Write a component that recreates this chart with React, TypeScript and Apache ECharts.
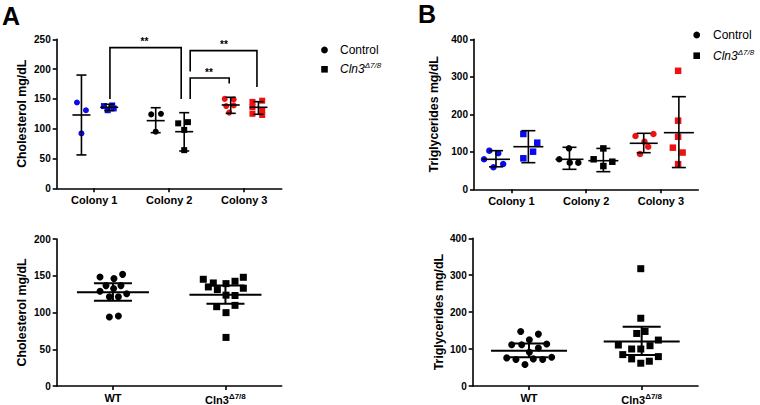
import React, { useEffect, useRef } from "react";
import * as echarts from "echarts";

// ---------- DATA ----------
const colonyCategories = ["Colony 1", "Colony 2", "Colony 3"];
const genotypeCategories = ["WT", "Cln3Δ7/8"];

const cholYAxis = { max: 250, interval: 50 };
const trigYAxis = { max: 400, interval: 100 };
const cholBottomYAxis = { max: 200, interval: 50 };

// Panel A top: cholesterol by colony  [x position, value]
const cholCtrlC1 = [[0.27, 144], [0.39, 131], [0.33, 92]];
const cholCtrlC2 = [[1.26, 124], [1.39, 125], [1.32, 95]];
const cholCtrlC3 = [[2.24, 150], [2.36, 149], [2.26, 138], [2.36, 139], [2.3, 127]];
const cholKoC1 = [[0.63, 138], [0.74, 139], [0.68, 131], [0.76, 134]];
const cholKoC2 = [[1.62, 109], [1.75, 111], [1.7, 98], [1.7, 64]];
const cholKoC3 = [[2.61, 145], [2.74, 147], [2.61, 136], [2.74, 131], [2.61, 125], [2.74, 123]];
// [x, mean, low, high]
const cholCtrlStats = [[0.33, 123, 56, 190], [1.32, 113.5, 93.3, 135.2], [2.32, 139.8, 125.8, 152.7]];
const cholKoStats = [[0.7, 135.9, 130.5, 141], [1.7, 95, 62.6, 126.9], [2.69, 135.9, 124.2, 145.3]];
// brackets: [x1, x2, yTop, yLeftEnd, yRightEnd, labelX]
const cholBrackets = [
  [0.71, 1.66, 236, 150, 150, 1.17],
  [1.78, 2.67, 231, 196, 170, 2.23],
  [1.78, 2.3, 185, 150, 176, 2.03],
];
const bracketLabel = "**";

// Panel B top: triglycerides by colony
const trigCtrlC1 = [[0.205, 103], [0.325, 96], [0.134, 80], [0.39, 67.5], [0.26, 58.7]];
const trigCtrlC2 = [[1.14, 80], [1.27, 109.3], [1.28, 71], [1.395, 71]];
const trigCtrlC3 = [[2.16, 142], [2.4, 147.5], [2.28, 127], [2.33, 113.6], [2.22, 94]];
const trigKoC1 = [[0.66, 147.5], [0.846, 124.3], [0.79, 100.3], [0.66, 82.7]];
const trigKoC2 = [[1.6, 80], [1.73, 109], [1.73, 62], [1.85, 73.6]];
const trigKoC3 = [[2.73, 316], [2.73, 183], [2.73, 140], [2.66, 111], [2.79, 98], [2.73, 67]];
const trigCtrlStats = [[0.294, 80, 60, 103], [1.277, 80, 53.3, 112], [2.27, 122.7, 97.6, 149.3]];
const trigKoStats = [[0.727, 113.6, 71, 156.3], [1.73, 76.3, 47, 109], [2.74, 151, 58, 247]];

// Panel A bottom: cholesterol WT vs Cln3
const cholWT = [
  [0.385, 148.3], [0.509, 146.1], [0.586, 151.9], [0.385, 129], [0.438, 136.6], [0.506, 132.6],
  [0.571, 136.6], [0.622, 125.4], [0.468, 121.3], [0.548, 121.3], [0.468, 93.9], [0.548, 95.3],
];
const cholKO = [
  [1.303, 145.2], [1.392, 140.2], [1.505, 139.3], [1.585, 142.5], [1.659, 147.9], [1.348, 134.8],
  [1.428, 131.2], [1.659, 133], [1.505, 123.6], [1.585, 123.1], [1.422, 107.9], [1.585, 109.7],
  [1.505, 99.8], [1.505, 66.1],
];
const cholGenoStats = [[0.5, 127.6, 116, 139.8], [1.5, 124, 111.9, 136.6]];

// Panel B bottom: triglycerides WT vs Cln3
const trigWT = [
  [0.426, 147.7], [0.583, 140.5], [0.503, 125.3], [0.346, 111.9], [0.435, 111.9], [0.657, 113.7],
  [0.583, 102.9], [0.503, 91.3], [0.302, 76.1], [0.384, 71.6], [0.538, 73.4], [0.621, 71.6],
  [0.701, 77.9], [0.464, 58.2],
];
const trigKO = [
  [1.492, 317.7], [1.492, 183.5], [1.456, 142.3], [1.53, 147.7], [1.648, 124.4], [1.293, 111],
  [1.411, 100.2], [1.492, 100.2], [1.574, 109.2], [1.332, 85], [1.411, 73.4], [1.568, 67.1],
  [1.648, 79.6], [1.492, 61.7],
];
const trigGenoStats = [[0.5, 95.8, 77.9, 115.4], [1.5, 120.8, 84.1, 160.2]];

const legendLabels = ["Control", "Cln3", "Δ7/8"];
const yNames = ["Cholesterol mg/dL", "Triglycerides mg/dL"];
const panelLetters = ["A", "B"];

// ---------- STYLE ----------
const FONT = "Arial, 'Liberation Sans', Helvetica, sans-serif";
const BLUE = "#0a0aee";
const RED = "#ee1111";
const BLACK = "#000000";
const colonyColors = [BLUE, BLACK, RED];

function errorSeries(data: number[][], xi: number, yi: number, meanHalf: number, capHalf: number, lw: number) {
  return {
    type: "custom",
    xAxisIndex: xi,
    yAxisIndex: yi,
    z: 5,
    silent: true,
    data,
    encode: { x: 0, y: [1, 2, 3] },
    renderItem: (params: any, api: any) => {
      const x = api.value(0);
      const m = api.coord([x, api.value(1)]);
      const lo = api.coord([x, api.value(2)]);
      const hi = api.coord([x, api.value(3)]);
      const st = { stroke: BLACK, lineWidth: lw };
      return {
        type: "group",
        children: [
          { type: "line", shape: { x1: m[0] - meanHalf, y1: m[1], x2: m[0] + meanHalf, y2: m[1] }, style: st },
          { type: "line", shape: { x1: m[0], y1: lo[1], x2: m[0], y2: hi[1] }, style: st },
          { type: "line", shape: { x1: m[0] - capHalf, y1: lo[1], x2: m[0] + capHalf, y2: lo[1] }, style: st },
          { type: "line", shape: { x1: m[0] - capHalf, y1: hi[1], x2: m[0] + capHalf, y2: hi[1] }, style: st },
        ],
      };
    },
  };
}

function scatter(data: number[][], xi: number, yi: number, color: string, symbol: string, size: number) {
  return {
    type: "scatter",
    xAxisIndex: xi,
    yAxisIndex: yi,
    symbol,
    symbolSize: size,
    itemStyle: { color, opacity: 1 },
    z: 3,
    silent: true,
    data,
  };
}

function bracketSeries(data: number[][], xi: number, yi: number) {
  return {
    type: "custom",
    xAxisIndex: xi,
    yAxisIndex: yi,
    z: 4,
    silent: true,
    data,
    encode: { x: [0, 1], y: [2, 3, 4] },
    renderItem: (params: any, api: any) => {
      const x1 = api.value(0), x2 = api.value(1), yt = api.value(2);
      const pL = api.coord([x1, api.value(3)]);
      const pT1 = api.coord([x1, yt]);
      const pT2 = api.coord([x2, yt]);
      const pR = api.coord([x2, api.value(4)]);
      const lab = api.coord([api.value(5), yt]);
      return {
        type: "group",
        children: [
          {
            type: "polyline",
            shape: { points: [pL, pT1, pT2, pR] },
            style: { stroke: BLACK, lineWidth: 1.6, fill: "none" },
          },
          {
            type: "text",
            x: lab[0],
            y: lab[1] - 1,
            style: { text: bracketLabel, align: "center", verticalAlign: "bottom", fontSize: 10, fontWeight: "bold", fontFamily: FONT, fill: BLACK },
          },
        ],
      };
    },
  };
}

const tickLabel = { color: BLACK, fontFamily: FONT, fontWeight: "bold", fontSize: 10, margin: 6 };
const axisLine = { show: true, lineStyle: { color: BLACK, width: 1.6 } };

function catAxis(grid: number, data: string[]) {
  return {
    type: "category",
    gridIndex: grid,
    data,
    boundaryGap: true,
    axisLine,
    axisTick: { show: true, alignWithLabel: true, interval: 0, length: 4, lineStyle: { color: BLACK, width: 1.6 } },
    axisLabel: {
      interval: 0,
      hideOverlap: false,
      color: BLACK,
      fontFamily: FONT,
      fontWeight: "bold",
      fontSize: 11,
      margin: 6,
      formatter: (v: string) => (v.startsWith("Cln3") ? `{a|Cln3}{s|${v.slice(4)}}` : `{a|${v}}`),
      rich: {
        a: { fontFamily: FONT, fontWeight: "bold", fontSize: 11, color: BLACK },
        s: { fontFamily: FONT, fontSize: 8, color: BLACK, verticalAlign: "top", padding: [0, 0, 7, 0] },
      },
    },
    splitLine: { show: false },
  };
}

function valXAxis(grid: number, max: number) {
  return { type: "value", gridIndex: grid, min: 0, max, show: false };
}

function valYAxis(grid: number, cfg: { max: number; interval: number }, name: string, gap: number) {
  return {
    type: "value",
    gridIndex: grid,
    min: 0,
    max: cfg.max,
    interval: cfg.interval,
    axisLine,
    axisTick: { show: true, length: 4, lineStyle: { color: BLACK, width: 1.6 } },
    axisLabel: tickLabel,
    splitLine: { show: false },
    name,
    nameLocation: "middle",
    nameRotate: 90,
    nameGap: gap,
    nameTextStyle: { color: BLACK, fontFamily: FONT, fontWeight: "bold", fontSize: 12.3 },
  };
}

function legendGraphics(cx: number, cy: number, dy: number, tx: number) {
  return [
    { type: "circle", shape: { cx, cy, r: 3.4 }, style: { fill: BLACK } },
    { type: "rect", shape: { x: cx - 3.3, y: cy + dy - 3.3, width: 6.6, height: 6.6 }, style: { fill: BLACK } },
    {
      type: "text",
      x: tx,
      y: cy,
      style: { text: legendLabels[0], fontFamily: FONT, fontSize: 12, fill: BLACK, align: "left", verticalAlign: "middle" },
    },
    {
      type: "text",
      x: tx,
      y: cy + dy,
      style: {
        text: `{i|${legendLabels[1]}}{s|${legendLabels[2]}}`,
        align: "left",
        verticalAlign: "middle",
        rich: {
          i: { fontFamily: FONT, fontSize: 12, fontStyle: "italic", fill: BLACK },
          s: { fontFamily: FONT, fontSize: 8, fontStyle: "italic", fill: BLACK, verticalAlign: "top", padding: [0, 0, 7, 0] },
        },
      },
    },
  ];
}

export default function App() {
  const ref = useRef<HTMLDivElement>(null);
  useEffect(() => {
    if (!ref.current) return;
    const chart = echarts.init(ref.current, null, { renderer: "svg" });
    const colonyCtrl = [cholCtrlC1, cholCtrlC2, cholCtrlC3];
    const colonyKo = [cholKoC1, cholKoC2, cholKoC3];
    const tColonyCtrl = [trigCtrlC1, trigCtrlC2, trigCtrlC3];
    const tColonyKo = [trigKoC1, trigKoC2, trigKoC3];
    const series: any[] = [];
    colonyCtrl.forEach((d, i) => series.push(scatter(d, 1, 0, colonyColors[i], "circle", 6)));
    colonyKo.forEach((d, i) => series.push(scatter(d, 1, 0, colonyColors[i], "rect", 6)));
    series.push(errorSeries(cholCtrlStats, 1, 0, 9, 5, 1.6));
    series.push(errorSeries(cholKoStats, 1, 0, 9, 5, 1.6));
    series.push(bracketSeries(cholBrackets, 1, 0));
    tColonyCtrl.forEach((d, i) => series.push(scatter(d, 3, 1, colonyColors[i], "circle", 6.5)));
    tColonyKo.forEach((d, i) => series.push(scatter(d, 3, 1, colonyColors[i], "rect", 6.5)));
    series.push(errorSeries(trigCtrlStats, 3, 1, 14, 7, 1.6));
    series.push(errorSeries(trigKoStats, 3, 1, 15, 7, 1.6));
    series.push(scatter(cholWT, 5, 2, BLACK, "circle", 7));
    series.push(scatter(cholKO, 5, 2, BLACK, "rect", 7));
    series.push(errorSeries(cholGenoStats, 5, 2, 36, 19, 2));
    series.push(scatter(trigWT, 7, 3, BLACK, "circle", 7));
    series.push(scatter(trigKO, 7, 3, BLACK, "rect", 7));
    series.push(errorSeries(trigGenoStats, 7, 3, 38, 19, 2));

    chart.setOption({
      animation: false,
      backgroundColor: "#ffffff",
      grid: [
        { left: 56.7, top: 39.3, width: 225, height: 149 },
        { left: 474, top: 39.3, width: 224.3, height: 150 },
        { left: 56.7, top: 239, width: 225, height: 148.3 },
        { left: 472.7, top: 238.3, width: 225.3, height: 149 },
      ],
      xAxis: [
        catAxis(0, colonyCategories), valXAxis(0, 3),
        catAxis(1, colonyCategories), valXAxis(1, 3),
        catAxis(2, genotypeCategories), valXAxis(2, 2),
        catAxis(3, genotypeCategories), valXAxis(3, 2),
      ],
      yAxis: [
        valYAxis(0, cholYAxis, yNames[0], 28.8),
        valYAxis(1, trigYAxis, yNames[1], 34.5),
        valYAxis(2, cholBottomYAxis, yNames[0], 28.8),
        valYAxis(3, trigYAxis, yNames[1], 28.2),
      ],
      graphic: [
        { type: "text", x: 2, y: 3, style: { text: panelLetters[0], fontFamily: FONT, fontWeight: "bold", fontSize: 25, fill: BLACK } },
        { type: "text", x: 418, y: 1, style: { text: panelLetters[1], fontFamily: FONT, fontWeight: "bold", fontSize: 25, fill: BLACK } },
        ...legendGraphics(324.5, 50, 19.3, 340),
        ...legendGraphics(696.7, 35, 20.7, 713),
      ],
      series,
    });
    return () => chart.dispose();
  }, []);
  return <div ref={ref} style={{ position: "fixed", left: 0, top: 0, width: 760, height: 405, background: "#fff" }} />;
}
